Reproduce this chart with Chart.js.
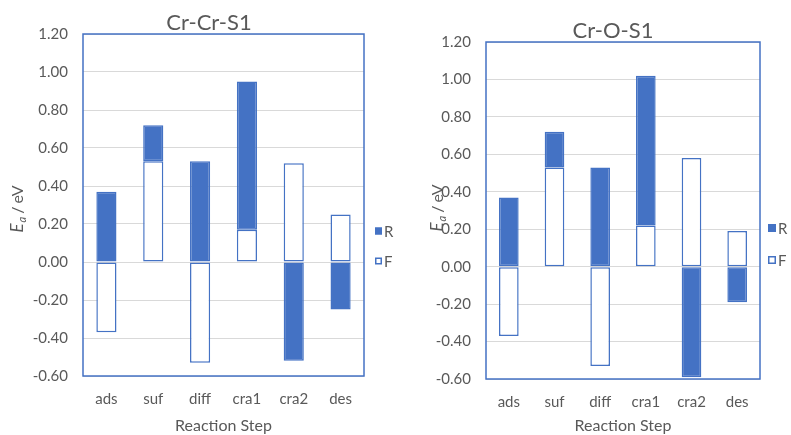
<!DOCTYPE html>
<html><head><meta charset="utf-8">
<script src="https://cdn.jsdelivr.net/npm/chart.js@4/dist/chart.umd.min.js"></script>
<style>
html,body{margin:0;padding:0;background:#fff;}
#wrap{position:relative;width:791px;height:435px;overflow:hidden;background:#fff;}
canvas{position:absolute;top:0;}
</style></head><body>
<div id="wrap">
<canvas id="c1" width="418" height="435" style="left:0px"></canvas>
<canvas id="c2" width="390" height="435" style="left:418px"></canvas>
</div>
<script>
// ---- data ----
const categories = ['ads', 'suf', 'diff', 'cra1', 'cra2', 'des'];
const yTicks = [-0.6, -0.4, -0.2, 0, 0.2, 0.4, 0.6, 0.8, 1.0, 1.2];
// Cr-Cr-S1 (floating bars: low / high ends, eV)
const crcrR_low  = [0,     0.53, 0,     0.17, -0.52, -0.25];
const crcrR_high = [0.37,  0.72, 0.53,  0.95,  0,     0];
const crcrF_low  = [-0.37, 0,    -0.53, 0,     0,     0];
const crcrF_high = [0,     0.53, 0,     0.17,  0.52,  0.25];
// Cr-O-S1
const croR_low  = [0,     0.53, 0,     0.22, -0.59, -0.19];
const croR_high = [0.37,  0.72, 0.53,  1.02,  0,     0];
const croF_low  = [-0.37, 0,    -0.53, 0,     0,     0];
const croF_high = [0,     0.53, 0,     0.22,  0.58,  0.19];

const BLUE = '#4472C4';
const GREY = '#595959';
const FONT = 'Lato, "Liberation Sans", sans-serif';

function pairs(lo, hi) { return lo.map((v, i) => [v, hi[i]]); }

function makeChart(id, title, rLo, rHi, fLo, fHi, g) {
  const framePlugin = {
    id: 'frame',
    beforeDatasetsDraw(chart) {
      const a = chart.chartArea, ctx = chart.ctx;
      ctx.save();
      ctx.strokeStyle = BLUE; ctx.lineWidth = 1.5;
      ctx.strokeRect(a.left, a.top, a.right - a.left, a.bottom - a.top);
      ctx.restore();
    }
  };
  const yTitlePlugin = {
    id: 'ytitle',
    afterDraw(chart) {
      const ctx = chart.ctx;
      ctx.save();
      ctx.translate(g.yTitleX, g.yTitleY);
      ctx.rotate(-Math.PI / 2);
      ctx.fillStyle = GREY;
      ctx.textBaseline = 'middle';
      ctx.textAlign = 'left';
      const fE = 'italic 17px ' + FONT, fa = 'italic 11px ' + FONT, fr = '16px ' + FONT;
      ctx.font = fE; const wE = ctx.measureText('E').width + 1;
      ctx.font = fa; const wa = ctx.measureText('a').width;
      ctx.font = fr; const ws = ctx.measureText('/').width, wv = ctx.measureText('eV').width;
      const gap1 = 3, gap2 = 3;
      let x = -(wE + wa + gap1 + ws + gap2 + wv) / 2;
      ctx.font = fE; ctx.fillText('E', x, 0); x += wE;
      ctx.font = fa; ctx.fillText('a', x, 4); x += wa + gap1;
      ctx.font = fr; ctx.fillText('/', x, 0); x += ws + gap2;
      ctx.fillText('eV', x, 0);
      ctx.restore();
    }
  };
  const legendPlugin = {
    id: 'sidelegend',
    afterDraw(chart) {
      const ctx = chart.ctx;
      ctx.save();
      ctx.font = '15px ' + FONT;
      ctx.textBaseline = 'middle';
      chart.data.datasets.forEach((ds, i) => {
        const cy = g.legY[i];
        const s = g.legBox;
        ctx.fillStyle = ds.backgroundColor;
        ctx.fillRect(g.legX, cy - s / 2, s, s);
        ctx.strokeStyle = ds.borderColor; ctx.lineWidth = 1.5;
        ctx.strokeRect(g.legX + 0.75, cy - s / 2 + 0.75, s - 1.5, s - 1.5);
        ctx.fillStyle = GREY;
        ctx.fillText(ds.label, g.legX + s + 2, cy + 1);
      });
      ctx.restore();
    }
  };
  return new Chart(document.getElementById(id), {
    type: 'bar',
    data: {
      labels: categories,
      datasets: [
        { label: 'R', data: pairs(rLo, rHi), backgroundColor: BLUE, borderColor: BLUE,
          borderWidth: 1.5, borderSkipped: false, grouped: false,
          barPercentage: 0.43, categoryPercentage: 1 },
        { label: 'F', data: pairs(fLo, fHi), backgroundColor: '#FFFFFF', borderColor: BLUE,
          borderWidth: 1.5, borderSkipped: false, grouped: false,
          barPercentage: 0.43, categoryPercentage: 1 }
      ]
    },
    options: {
      responsive: false,
      animation: false,
      devicePixelRatio: 1,
      layout: { padding: 0 },
      plugins: {
        legend: { display: false },
        tooltip: { enabled: false },
        title: {
          display: true, text: title, color: GREY,
          font: { family: FONT, size: 22, weight: 'normal', lineHeight: 1 },
          padding: { top: g.titleTop, bottom: 0 }
        }
      },
      scales: {
        x: {
          grid: { display: false, drawTicks: false },
          border: { display: false },
          ticks: { color: GREY, font: { family: FONT, size: 15 }, padding: g.xTickPad },
          title: { display: true, text: 'Reaction Step', color: GREY,
                   font: { family: FONT, size: 16 }, padding: { top: 0, bottom: 0 } },
          afterFit(s) { s.height = g.xAxisH; }
        },
        y: {
          min: -0.6, max: 1.2,
          afterBuildTicks(s) { s.ticks = yTicks.map(v => ({ value: v })); },
          grid: { color: '#D9D9D9', lineWidth: 1, drawTicks: false },
          border: { display: false },
          ticks: { color: GREY, font: { family: FONT, size: 15 }, padding: 15,
                   callback: v => Number(v).toFixed(2) },
          afterFit(s) { s.width = g.axisW; }
        },
        // empty right-hand axis that reserves room for the side legend
        yRight: {
          position: 'right', min: -0.6, max: 1.2,
          grid: { display: false, drawTicks: false },
          border: { display: false },
          ticks: { display: false },
          afterFit(s) { s.width = g.rightW; }
        }
      }
    },
    plugins: [framePlugin, yTitlePlugin, legendPlugin]
  });
}

makeChart('c1', 'Cr-Cr-S1', crcrR_low, crcrR_high, crcrF_low, crcrF_high, {
  rightW: 54, axisW: 83, xAxisH: 59, titleTop: 12, xTickPad: 14,
  yTitleX: 18, yTitleY: 209, legX: 375, legBox: 7, legY: [231, 261]
});
makeChart('c2', 'Cr-O-S1', croR_low, croR_high, croF_low, croF_high, {
  rightW: 48, axisW: 68, xAxisH: 56, titleTop: 20, xTickPad: 14,
  yTitleX: 20, yTitleY: 208, legX: 350, legBox: 8, legY: [228, 260]
});
</script>
</body></html>
